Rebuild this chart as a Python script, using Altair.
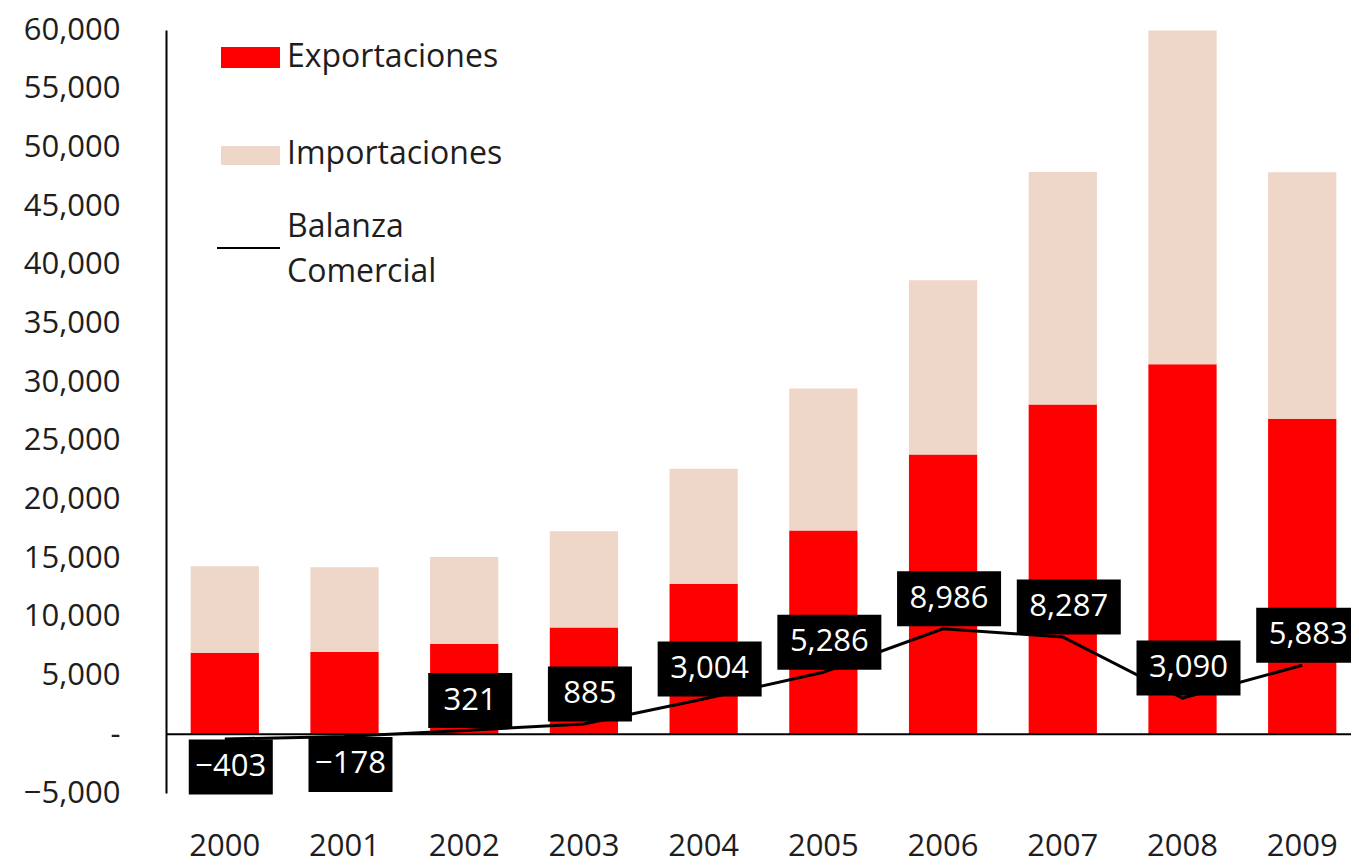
import altair as alt
import pandas as pd

# ---- data ----
years = ["2000", "2001", "2002", "2003", "2004", "2005", "2006", "2007", "2008", "2009"]
exportaciones = [6955, 7026, 7714, 9091, 12809, 17368, 23830, 28094, 31529, 26885]
importaciones = [7358, 7204, 7393, 8205, 9805, 12082, 14844, 19807, 28439, 21002]
balanza = [-403, -178, 321, 885, 3004, 5286, 8986, 8287, 3090, 5883]
series = ["Exportaciones", "Importaciones"]
line_label = ["Balanza", "Comercial"]
y_ticks = list(range(-5000, 60001, 5000))

bars_df = pd.DataFrame({
    "year": years * 2,
    "serie": [series[0]] * len(years) + [series[1]] * len(years),
    "valor": exportaciones + importaciones,
    "orden": [0] * len(years) + [1] * len(years),
})
bal_df = pd.DataFrame({"year": years, "balanza": balanza})

FONT = "Open Sans"
FS = 31
RED = "#FF0000"
TAN = "#EED6C8"
TXT = "#1e1e1e"

x_scale = alt.Scale(domain=years, range=[0, 1195], paddingInner=0.43, paddingOuter=0.206)
y_scale = alt.Scale(domain=[-5000, 60000], nice=False, zero=False)

y_axis = alt.Axis(title=None, values=y_ticks, grid=False, ticks=False,
                  labelExpr="datum.value == 0 ? '-' : format(datum.value, ',')",
                  domainColor="black", domainWidth=2, labelPadding=46,
                  labelFont=FONT, labelFontSize=FS, labelColor=TXT)

x_enc = alt.X("year:N", scale=x_scale, sort=years, title=None,
              axis=alt.Axis(title=None, labelAngle=0, domain=False, ticks=False,
                            labelPadding=38, labelFont=FONT, labelFontSize=FS,
                            labelColor=TXT))

bars = alt.Chart(bars_df).mark_bar().encode(
    x=x_enc,
    y=alt.Y("valor:Q", stack="zero", scale=y_scale, axis=y_axis, title=None),
    color=alt.Color("serie:N", scale=alt.Scale(domain=series, range=[RED, TAN]), legend=None),
    order=alt.Order("orden:Q"),
)

zero_rule = alt.Chart(pd.DataFrame({"z": [0]})).mark_rule(color="black", strokeWidth=2).encode(
    y=alt.Y("z:Q", scale=y_scale, title=None)
)

line = alt.Chart(bal_df).mark_line(color="black", strokeWidth=3).encode(
    x=alt.X("year:N", scale=x_scale, sort=years, title=None),
    y=alt.Y("balanza:Q", scale=y_scale, title=None),
)

LONG = "M-1,-0.529L1,-0.529L1,0.529L-1,0.529Z"
SHORT = "M-0.808,-0.529L0.808,-0.529L0.808,0.529L-0.808,0.529Z"

base_lbl = alt.Chart(bal_df).transform_calculate(lbl="format(datum.balanza, ',')")


def label_layers(filt, yoff):
    b = base_lbl.transform_filter(filt)
    box = b.mark_point(filled=True, color="black", opacity=1, strokeWidth=0,
                       size=10816, xOffset=6, yOffset=yoff).encode(
        x=alt.X("year:N", scale=x_scale, sort=years, title=None),
        y=alt.Y("balanza:Q", scale=y_scale, title=None),
        shape=alt.condition("length(datum.lbl) > 4", alt.value(LONG), alt.value(SHORT)),
    )
    txt = b.mark_text(color="white", font=FONT, fontSize=FS, align="center",
                      baseline="middle", xOffset=6, yOffset=yoff).encode(
        x=alt.X("year:N", scale=x_scale, sort=years, title=None),
        y=alt.Y("balanza:Q", scale=y_scale, title=None),
        text="lbl:N",
    )
    return box + txt


pos_lbl = label_layers("datum.balanza >= 0", -30)
neg_lbl = label_layers("datum.balanza < 0", 28)

# ---- legend (top-left, inside plot) ----
leg_df = pd.DataFrame({"serie": series})
leg1_sw = alt.Chart(leg_df.iloc[[0]]).mark_rect(color=RED).encode(
    x=alt.value(55), x2=alt.value(114), y=alt.value(17), y2=alt.value(38))
leg1_tx = alt.Chart(leg_df.iloc[[0]]).mark_text(align="left", baseline="middle", font=FONT,
                                                fontSize=FS + 1, color=TXT).encode(
    x=alt.value(121), y=alt.value(27), text="serie:N")
leg2_sw = alt.Chart(leg_df.iloc[[1]]).mark_rect(color=TAN).encode(
    x=alt.value(55), x2=alt.value(114), y=alt.value(116), y2=alt.value(135))
leg2_tx = alt.Chart(leg_df.iloc[[1]]).mark_text(align="left", baseline="middle", font=FONT,
                                                fontSize=FS + 1, color=TXT).encode(
    x=alt.value(121), y=alt.value(124), text="serie:N")
leg3_ln = alt.Chart(leg_df.iloc[[0]]).mark_rule(color="black", strokeWidth=2).encode(
    x=alt.value(51), x2=alt.value(114), y=alt.value(218))
leg3_tx = alt.Chart(leg_df.iloc[[0]]).mark_text(align="left", baseline="middle", font=FONT,
                                                fontSize=FS + 1, color=TXT, lineHeight=45).encode(
    x=alt.value(121), y=alt.value(197), text=alt.value(line_label))

chart = alt.layer(
    bars, zero_rule, line, pos_lbl, neg_lbl,
    leg1_sw, leg1_tx, leg2_sw, leg2_tx, leg3_ln, leg3_tx,
).properties(
    width=1185, height=763,
    autosize=alt.AutoSizeParams(type="none"),
    padding={"left": 158, "top": 22, "right": 0, "bottom": 70},
    background="white",
).configure_view(strokeWidth=0)

chart.save("out.html", embed_options={"renderer": "svg", "actions": False})
